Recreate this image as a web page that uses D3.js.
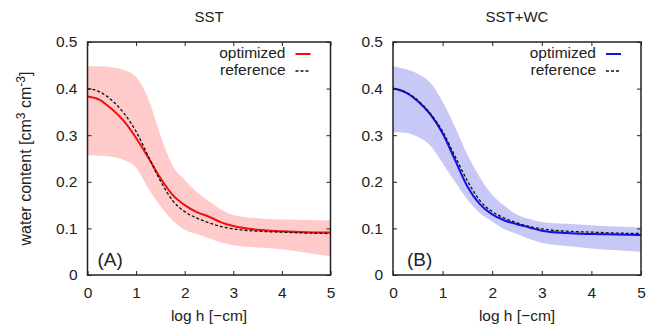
<!DOCTYPE html>
<html>
<head>
<meta charset="utf-8">
<script src="https://cdn.jsdelivr.net/npm/d3@7"></script>
<style>
  body { margin: 0; background: #fff; }
  text { font-family: "Liberation Sans", Arial, sans-serif; fill: #222; }
</style>
</head>
<body>
<svg width="649" height="331"></svg>
<script>
// log h [-cm] sample points
const logH = [0, 0.25, 0.5, 0.75, 1, 1.25, 1.5, 1.75, 2, 2.25, 2.5, 2.75, 3, 3.5, 4, 4.5, 5];

// reference curve (same in both panels)
const reference = [0.400, 0.393, 0.375, 0.347, 0.308, 0.255, 0.202, 0.160, 0.136, 0.122, 0.112, 0.104, 0.099, 0.094, 0.092, 0.090, 0.089];

// panel A: SST
const optA   = [0.383, 0.376, 0.356, 0.330, 0.294, 0.252, 0.208, 0.172, 0.150, 0.135, 0.125, 0.113, 0.105, 0.097, 0.094, 0.092, 0.091];
const upperA = [0.448, 0.448, 0.446, 0.440, 0.425, 0.378, 0.300, 0.235, 0.204, 0.178, 0.158, 0.140, 0.129, 0.122, 0.119, 0.118, 0.117];
const lowerA = [0.257, 0.256, 0.254, 0.247, 0.230, 0.186, 0.148, 0.117, 0.097, 0.088, 0.079, 0.070, 0.064, 0.059, 0.055, 0.048, 0.040];

// panel B: SST+WC
const optB   = [0.400, 0.392, 0.373, 0.345, 0.304, 0.247, 0.190, 0.152, 0.130, 0.117, 0.109, 0.102, 0.095, 0.090, 0.088, 0.087, 0.086];
const upperB = [0.448, 0.442, 0.432, 0.413, 0.372, 0.318, 0.258, 0.210, 0.172, 0.148, 0.130, 0.120, 0.114, 0.110, 0.107, 0.104, 0.102];
const lowerB = [0.307, 0.305, 0.296, 0.278, 0.240, 0.200, 0.162, 0.133, 0.115, 0.098, 0.088, 0.077, 0.069, 0.062, 0.057, 0.053, 0.050];

const xTicks = [0, 1, 2, 3, 4, 5];
const yTicks = [0, 0.1, 0.2, 0.3, 0.4, 0.5];

const panels = [
  {title: 'SST', tag: '(A)', left: 87.5, right: 330.5, tagDx: 10,
   opt: optA, upper: upperA, lower: lowerA, line: '#f01010', band: '#ffcaca'},
  {title: 'SST+WC', tag: '(B)', left: 393, right: 641, tagDx: 14,
   opt: optB, upper: upperB, lower: lowerB, line: '#1010e8', band: '#c8c8f6'}
];

const plotTop = 42, plotBottom = 275;
const fs = 15.5;
const svg = d3.select('svg');

svg.append('text')
    .attr('transform', `translate(31, ${(plotTop + plotBottom) / 2}) rotate(-90)`)
    .attr('text-anchor', 'middle')
    .attr('font-size', 16)
    .html('water content [cm<tspan dy="-6" font-size="12">3</tspan><tspan dy="6"> cm</tspan><tspan dy="-6" font-size="12">-3</tspan><tspan dy="6">]</tspan>');

panels.forEach(function (p) {
    let x = d3.scaleLinear().domain([0, 5]).range([p.left, p.right]);
    let y = d3.scaleLinear().domain([0, 0.5]).range([plotBottom, plotTop]);
    let g = svg.append('g');

    let area = d3.area()
        .x((d, i) => x(logH[i]))
        .y0((d, i) => y(p.lower[i]))
        .y1((d, i) => y(p.upper[i]))
        .curve(d3.curveMonotoneX);
    g.append('path')
        .datum(logH)
        .attr('d', area)
        .attr('fill', p.band);

    let line = d3.line()
        .x((d, i) => x(logH[i]))
        .y(d => y(d))
        .curve(d3.curveMonotoneX);

    g.append('path')
        .datum(p.opt)
        .attr('d', line)
        .attr('fill', 'none')
        .attr('stroke', p.line)
        .attr('stroke-width', 2);

    g.append('path')
        .datum(reference)
        .attr('d', line)
        .attr('fill', 'none')
        .attr('stroke', '#111')
        .attr('stroke-width', 1.3)
        .attr('stroke-dasharray', '3,2');

    // axes with inward ticks, mirrored on top and right
    let xb = g.append('g').attr('transform', `translate(0, ${plotBottom})`)
        .call(d3.axisBottom(x).tickValues(xTicks).tickSize(-4).tickPadding(12).tickFormat(d3.format('d')));
    let xt = g.append('g').attr('transform', `translate(0, ${plotTop})`)
        .call(d3.axisTop(x).tickValues(xTicks).tickSize(-4).tickFormat(''));
    let yl = g.append('g').attr('transform', `translate(${p.left}, 0)`)
        .call(d3.axisLeft(y).tickValues(yTicks).tickSize(-4).tickPadding(10)
              .tickFormat(d => d === 0 ? '0' : d3.format('.1f')(d)));
    let yr = g.append('g').attr('transform', `translate(${p.right}, 0)`)
        .call(d3.axisRight(y).tickValues(yTicks).tickSize(-4).tickFormat(''));
    [xb, xt, yl, yr].forEach(function (a) {
        a.select('.domain').remove();
        a.selectAll('line').attr('stroke', '#222');
        a.selectAll('text').attr('font-size', fs).attr('fill', '#222')
            .attr('font-family', '"Liberation Sans", Arial, sans-serif');
    });

    g.append('rect')
        .attr('x', p.left)
        .attr('y', plotTop)
        .attr('width', p.right - p.left)
        .attr('height', plotBottom - plotTop)
        .attr('fill', 'none')
        .attr('stroke', '#222')
        .attr('stroke-width', 1.5);

    g.append('text')
        .attr('x', (p.left + p.right) / 2)
        .attr('y', 22)
        .attr('text-anchor', 'middle')
        .attr('font-size', 15)
        .text(p.title);

    g.append('text')
        .attr('x', (p.left + p.right) / 2)
        .attr('y', 321)
        .attr('text-anchor', 'middle')
        .attr('font-size', fs)
        .text('log h [\u2212cm]');

    g.append('text')
        .attr('x', p.left + p.tagDx)
        .attr('y', 266)
        .attr('font-size', 19)
        .text(p.tag);

    // legend
    let lx = p.right - 45;
    g.append('text').attr('x', lx).attr('y', 58).attr('text-anchor', 'end')
        .attr('font-size', fs).text('optimized');
    g.append('line').attr('x1', lx + 10).attr('x2', lx + 25).attr('y1', 54).attr('y2', 54)
        .attr('stroke', p.line).attr('stroke-width', 2);
    g.append('text').attr('x', lx).attr('y', 75).attr('text-anchor', 'end')
        .attr('font-size', fs).text('reference');
    g.append('line').attr('x1', lx + 10).attr('x2', lx + 25).attr('y1', 71).attr('y2', 71)
        .attr('stroke', '#111').attr('stroke-width', 1.3).attr('stroke-dasharray', '3,2');
});
</script>
</body>
</html>
